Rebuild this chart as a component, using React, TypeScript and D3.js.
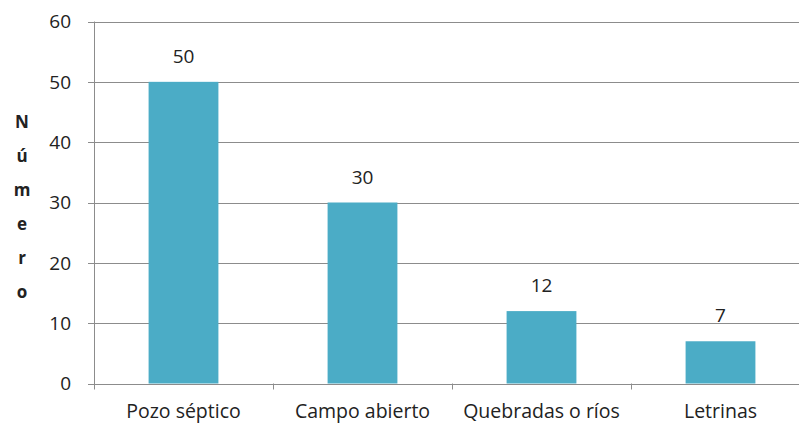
import React from 'react';
import * as d3 from 'd3';

const categories = ['Pozo séptico', 'Campo abierto', 'Quebradas o ríos', 'Letrinas'];
const values = [50, 30, 12, 7];
const yTicks = [0, 10, 20, 30, 40, 50, 60];
const yTitle = ['N', 'ú', 'm', 'e', 'r', 'o'];

const W = 799;
const H = 424;
const FONT = "'Open Sans', 'Liberation Sans', sans-serif";

const App: React.FC = () => {
  const left = 94;
  const right = 810;
  const top = 21.5;
  const bottom = 383.5;

  const x = d3.scaleBand<string>()
    .domain(categories)
    .range([left, right])
    .paddingInner(0.61)
    .paddingOuter(0.305);

  const y = d3.scaleLinear().domain([0, 60]).range([bottom, top]);
  const step = x.step();

  return (
    <svg width={W} height={H} style={{ position: 'absolute', left: 0, top: 0, background: '#fff' }}>
      {/* gridlines + y ticks */}
      {yTicks.map(t => (
        <g key={t}>
          <line x1={left - 6} x2={W} y1={Math.round(y(t)) + 0.5} y2={Math.round(y(t)) + 0.5}
            stroke="#8c8c8c" strokeWidth={1} />
          <text x={71} y={y(t)} dy="0.36em" textAnchor="end" fontFamily={FONT} fontSize={19} fill="#222">{t}</text>
        </g>
      ))}
      {/* y axis */}
      <line x1={left + 0.5} x2={left + 0.5} y1={top} y2={bottom + 6} stroke="#8c8c8c" />
      {/* category boundary ticks */}
      {categories.map((c, i) => {
        const bx = Math.round(left + step * (i + 1)) + 0.5;
        return <line key={c} x1={bx} x2={bx} y1={bottom} y2={bottom + 6} stroke="#8c8c8c" />;
      })}
      {/* bars */}
      {categories.map((c, i) => (
        <rect key={c} x={x(c)} y={y(values[i])} width={x.bandwidth()} height={bottom - y(values[i])}
          fill="#4bacc6" />
      ))}
      {/* value labels */}
      {categories.map((c, i) => (
        <text key={c} x={x(c)! + x.bandwidth() / 2} y={y(values[i]) - 19} textAnchor="middle"
          fontFamily={FONT} fontSize={19} fill="#222">{values[i]}</text>
      ))}
      {/* category labels */}
      {categories.map(c => (
        <text key={c} x={x(c)! + x.bandwidth() / 2} y={418} textAnchor="middle"
          fontFamily={FONT} fontSize={19.5} fill="#222">{c}</text>
      ))}
      {/* stacked y title */}
      {yTitle.map((ch, i) => (
        <text key={i} x={22} y={128 + i * 34} textAnchor="middle" fontFamily={FONT}
          fontSize={17} fontWeight="bold" fill="#222">{ch}</text>
      ))}
    </svg>
  );
};

export default App;
